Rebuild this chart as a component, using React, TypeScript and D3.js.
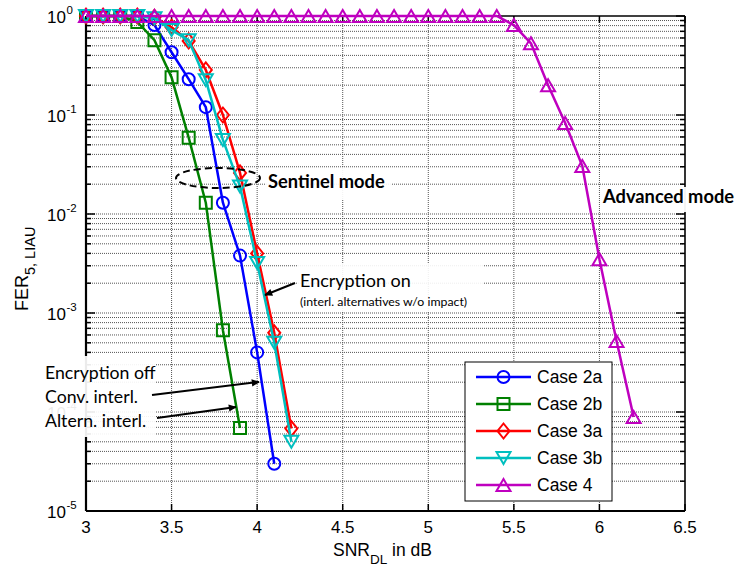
import React from "react";
import * as d3 from "d3";

const snr2a = [3.0, 3.1, 3.2, 3.3, 3.4, 3.5, 3.6, 3.7, 3.8, 3.9, 4.0, 4.1];
const fer2a = [1, 1, 1, 1, 0.81, 0.43, 0.23, 0.12, 0.013, 0.0038, 0.0004, 3.0e-5];

const snr2b = [3.0, 3.1, 3.2, 3.3, 3.4, 3.5, 3.6, 3.7, 3.8, 3.9];
const fer2b = [1, 1, 1, 0.87, 0.57, 0.24, 0.059, 0.013, 6.7e-4, 6.9e-5];

const snr3a = [3.0, 3.1, 3.2, 3.3, 3.4, 3.5, 3.6, 3.7, 3.8, 3.9, 4.0, 4.1, 4.2];
const fer3a = [1, 1, 1, 1, 0.97, 0.77, 0.56, 0.285, 0.1, 0.026, 0.004, 6.3e-4, 6.8e-5];

const snr3b = [3.0, 3.1, 3.2, 3.3, 3.4, 3.5, 3.6, 3.7, 3.8, 3.9, 4.0, 4.1, 4.2];
const fer3b = [1, 1, 1, 1, 0.95, 0.72, 0.57, 0.225, 0.056, 0.019, 0.0032, 5.0e-4, 5.0e-5];

const snr4 = [3.0, 3.1, 3.2, 3.3, 3.4, 3.5, 3.6, 3.7, 3.8, 3.9, 4.0, 4.1, 4.2, 4.3, 4.4, 4.5, 4.6, 4.7, 4.8, 4.9, 5.0, 5.1, 5.2, 5.3, 5.4, 5.5, 5.6, 5.7, 5.8, 5.9, 6.0, 6.1, 6.2];
const fer4 = [1, 1, 1, 1, 1, 1, 1, 1, 1, 1, 1, 1, 1, 1, 1, 1, 1, 1, 1, 1, 1, 1, 1, 1, 1, 0.81, 0.53, 0.2, 0.083, 0.0305, 0.0035, 5.2e-4, 8.9e-5];

const seriesNames = ["Case 2a", "Case 2b", "Case 3a", "Case 3b", "Case 4"];
const seriesColors = ["#0000FF", "#008000", "#FF0000", "#00BFBF", "#BF00BF"];
const seriesMarkers = ["circle", "square", "diamond", "tdown", "tup"];

const xTicks = [3, 3.5, 4, 4.5, 5, 5.5, 6, 6.5];
const xTickLabels = ["3", "3.5", "4", "4.5", "5", "5.5", "6", "6.5"];
const yExponents = [0, -1, -2, -3, -4, -5];

const W = 736;
const H = 571;
const L = 86, R = 685, T = 16, B = 511;

function markerPath(kind: string, cx: number, cy: number): string {
  switch (kind) {
    case "square":
      return `M${cx - 6},${cy - 6}h12v12h-12Z`;
    case "diamond":
      return `M${cx},${cy - 7.5}L${cx + 6},${cy}L${cx},${cy + 7.5}L${cx - 6},${cy}Z`;
    case "tdown":
      return `M${cx - 7},${cy - 6}L${cx + 7},${cy - 6}L${cx},${cy + 6}Z`;
    case "tup":
      return `M${cx - 7},${cy + 6}L${cx + 7},${cy + 6}L${cx},${cy - 6}Z`;
    default:
      return "";
  }
}

function Marker({ kind, cx, cy, color }: { kind: string; cx: number; cy: number; color: string }) {
  if (kind === "circle") {
    return <circle cx={cx} cy={cy} r={6} fill="none" stroke={color} strokeWidth={2} />;
  }
  return <path d={markerPath(kind, cx, cy)} fill="none" stroke={color} strokeWidth={2} strokeLinejoin="miter" />;
}

export default function App() {
  const x = d3.scaleLinear().domain([3, 6.5]).range([L, R]);
  const y = d3.scaleLog().domain([1e-5, 1]).range([B, T]);

  const series = [
    { xs: snr2a, ys: fer2a },
    { xs: snr2b, ys: fer2b },
    { xs: snr3a, ys: fer3a },
    { xs: snr3b, ys: fer3b },
    { xs: snr4, ys: fer4 },
  ];

  const line = d3
    .line<[number, number]>()
    .x((d) => x(d[0]))
    .y((d) => y(d[1]));

  const yGrid: number[] = [];
  const yMinor: number[] = [];
  for (let e = -5; e < 0; e++) {
    for (let k = 1; k <= 9; k++) {
      const v = k * Math.pow(10, e);
      yGrid.push(v);
      if (k > 1) yMinor.push(v);
    }
  }
  yGrid.push(1);

  const font = "'Liberation Sans', Arial, Helvetica, sans-serif";
  const anno = "Lato, 'Open Sans', sans-serif";

  return (
    <svg width={W} height={H} style={{ position: "absolute", left: 0, top: 0, background: "#fff" }}>
      <defs>
        <marker id="arr" viewBox="0 0 10 10" refX="9" refY="5" markerWidth="10" markerHeight="8" markerUnits="userSpaceOnUse" orient="auto">
          <path d="M0,0.5 L10,5 L0,9.5 Z" fill="#000" />
        </marker>
      </defs>
      <rect x={0} y={0} width={W} height={H} fill="#fff" />

      {/* grid */}
      <g stroke="#555" strokeWidth={1} strokeDasharray="1 1">
        {xTicks.slice(1, -1).map((t) => (
          <line key={"gx" + t} x1={x(t)} x2={x(t)} y1={T} y2={B} />
        ))}
        {yGrid.slice(1, -1).map((v, i) => (
          <line key={"gy" + i} x1={L} x2={R} y1={y(v)} y2={y(v)} />
        ))}
      </g>

      {/* axes box */}
      <g stroke="#000" fill="none">
        <line x1={L} x2={R} y1={B} y2={B} strokeWidth={2.2} />
        <line x1={L} x2={L} y1={T} y2={B} strokeWidth={2.2} />
        <line x1={L} x2={R} y1={T} y2={T} strokeWidth={1.6} />
        <line x1={R} x2={R} y1={T} y2={B} strokeWidth={1.6} />
        {xTicks.map((t) => (
          <g key={"xt" + t}>
            <line x1={x(t)} x2={x(t)} y1={B} y2={B - 7} strokeWidth={1.5} />
            <line x1={x(t)} x2={x(t)} y1={T} y2={T + 7} strokeWidth={1.5} />
          </g>
        ))}
        {yExponents.map((e) => (
          <g key={"ymt" + e}>
            <line x1={L} x2={L + 9} y1={y(Math.pow(10, e))} y2={y(Math.pow(10, e))} strokeWidth={1.5} />
            <line x1={R} x2={R - 9} y1={y(Math.pow(10, e))} y2={y(Math.pow(10, e))} strokeWidth={1.5} />
          </g>
        ))}
        {yMinor.map((v, i) => (
          <g key={"ymn" + i}>
            <line x1={L} x2={L + 5} y1={y(v)} y2={y(v)} strokeWidth={1.5} />
            <line x1={R} x2={R - 5} y1={y(v)} y2={y(v)} strokeWidth={1.5} />
          </g>
        ))}
      </g>

      {/* tick labels */}
      <g fontFamily={font} fill="#000">
        {xTicks.map((t, i) => (
          <text key={"xl" + t} x={x(t)} y={B + 22} fontSize={17} textAnchor="middle">
            {xTickLabels[i]}
          </text>
        ))}
        {yExponents.map((e) => (
          <g key={"yl" + e}>
            <text x={66} y={y(Math.pow(10, e)) + 7} fontSize={17} textAnchor="end">10</text>
            <text x={66.5} y={y(Math.pow(10, e)) - 2} fontSize={11.5} textAnchor="start">{String(e)}</text>
          </g>
        ))}
      </g>

      {/* axis labels */}
      <text x={333} y={556} fontFamily={font} fontSize={17.5} fill="#000">
        SNR<tspan fontSize={13.5} dy={8}>DL</tspan><tspan dy={-8}> in dB</tspan>
      </text>
      <text transform="translate(28,311) rotate(-90)" fontFamily={font} fontSize={18} fill="#000">
        FER<tspan fontSize={14.5} dy={7}>5, LIAU</tspan>
      </text>

      {/* series */}
      {series.map((s, si) => {
        const pts: [number, number][] = s.xs.map((v, i) => [v, s.ys[i]]);
        return (
          <g key={"s" + si}>
            <path d={line(pts) || ""} fill="none" stroke={seriesColors[si]} strokeWidth={2.5} strokeLinejoin="round" />
            {pts.map((p, i) => (
              <Marker key={i} kind={seriesMarkers[si]} cx={x(p[0])} cy={y(p[1])} color={seriesColors[si]} />
            ))}
          </g>
        );
      })}

      {/* annotations */}
      <ellipse cx={218} cy={178} rx={42} ry={10} fill="none" stroke="#000" strokeWidth={2} strokeDasharray="7 4" />
      <rect x={265} y={168} width={126} height={31} fill="#fff" fillOpacity={0.92} />
      <text x={268} y={188} fontFamily={anno} fontWeight="bold" fontSize={18.3} fill="#000">Sentinel mode</text>

      <rect x={600} y={187} width={136} height={25} fill="#fff" fillOpacity={0.95} />
      <text x={603} y={203} fontFamily={anno} fontWeight="bold" fontSize={18.3} fill="#000">Advanced mode</text>

      <rect x={297} y={264} width={187} height={48} fill="#fff" fillOpacity={0.9} />
      <text x={300} y={287} fontFamily={anno} fontSize={18} fill="#000">Encryption on</text>
      <text x={300} y={306} fontFamily={anno} fontSize={12.3} fill="#000">(interl. alternatives w/o impact)</text>
      <line x1={295} y1={283} x2={265} y2={295} stroke="#000" strokeWidth={2} markerEnd="url(#arr)" />

      <rect x={38} y={356} width={118} height={81} fill="#fff" fillOpacity={0.92} />
      <text x={45} y={379} fontFamily={anno} fontSize={17.7} fill="#000">Encryption off</text>
      <text x={45} y={403} fontFamily={anno} fontSize={17.7} fill="#000">Conv. interl.</text>
      <text x={45} y={427} fontFamily={anno} fontSize={17.7} fill="#000">Altern. interl.</text>
      <line x1={152} y1={395} x2={259} y2={382} stroke="#000" strokeWidth={2} markerEnd="url(#arr)" />
      <line x1={157} y1={418} x2={236} y2={407} stroke="#000" strokeWidth={2} markerEnd="url(#arr)" />

      {/* legend */}
      <g>
        <rect x={465} y={362} width={147} height={139} fill="#fff" stroke="#000" strokeWidth={1} />
        {seriesNames.map((n, i) => {
          const ly = 377 + i * 27;
          return (
            <g key={"lg" + i}>
              <line x1={476} x2={531} y1={ly} y2={ly} stroke={seriesColors[i]} strokeWidth={2.5} />
              <Marker kind={seriesMarkers[i]} cx={503.5} cy={ly} color={seriesColors[i]} />
              <text x={537} y={ly + 6} fontFamily={font} fontSize={17.5} fill="#000">{n}</text>
            </g>
          );
        })}
      </g>
    </svg>
  );
}
